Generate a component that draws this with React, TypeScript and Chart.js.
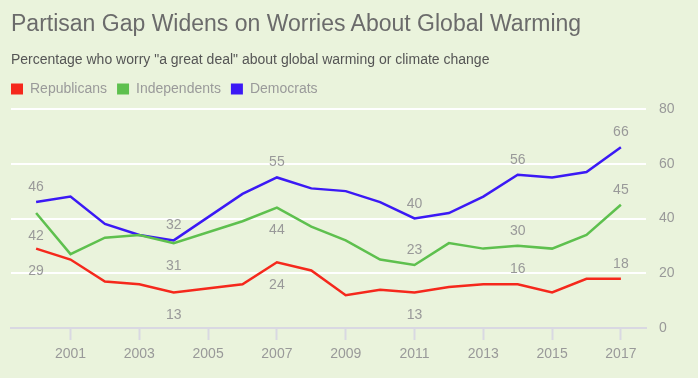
import React, { useEffect, useRef } from "react";
import { Chart, registerables } from "chart.js";

Chart.register(...registerables);

const FONT = "'Liberation Sans', Arial, sans-serif";

const titleText = "Partisan Gap Widens on Worries About Global Warming";
const subtitleText = 'Percentage who worry "a great deal" about global warming or climate change';

const years = [2000, 2001, 2002, 2003, 2004, 2006, 2007, 2008, 2009, 2010, 2011, 2012, 2013, 2014, 2015, 2016, 2017];
const republicans = [29, 25, 17, 16, 13, 16, 24, 21, 12, 14, 13, 15, 16, 16, 13, 18, 18];
const independents = [42, 27, 33, 34, 31, 39, 44, 37, 32, 25, 23, 31, 29, 30, 29, 34, 45];
const democrats = [46, 48, 38, 34, 32, 49, 55, 51, 50, 46, 40, 42, 48, 56, 55, 57, 66];

const seriesNames = ["Republicans", "Independents", "Democrats"];
const seriesColors = ["#f5281c", "#5ec04e", "#3b19f5"];

const xTickYears = [2001, 2003, 2005, 2007, 2009, 2011, 2013, 2015, 2017];
const yTickValues = [0, 20, 40, 60, 80];

const labeledYears = [2000, 2004, 2007, 2011, 2014, 2017];
const repLabelSide = ["below", "below", "below", "below", "above", "above"];
const indLabelSide = ["below", "below", "below", "above", "above", "above"];
const demLabelSide = ["above", "above", "above", "above", "above", "above"];

const BG = "#eaf3dc";

const valueLabelPlugin = {
  id: "valueLabels",
  afterDatasetsDraw(chart: any) {
    const sides = [repLabelSide, indLabelSide, demLabelSide];
    const ctx = chart.ctx;
    ctx.save();
    ctx.font = `14px ${FONT}`;
    ctx.fillStyle = "#999999";
    ctx.textAlign = "center";
    ctx.textBaseline = "alphabetic";
    chart.data.datasets.forEach((ds: any, di: number) => {
      const meta = chart.getDatasetMeta(di);
      labeledYears.forEach((yr, li) => {
        const idx = years.indexOf(yr);
        const pt = meta.data[idx];
        if (!pt) return;
        const v = ds.data[idx].y;
        const y = sides[di][li] === "above" ? pt.y - 11 : pt.y + 26.5;
        ctx.fillText(String(v), pt.x, y);
      });
    });
    ctx.restore();
  },
};

export default function App() {
  const canvasRef = useRef<HTMLCanvasElement | null>(null);

  useEffect(() => {
    document.body.style.margin = "0";
    document.body.style.background = BG;
    const canvas = canvasRef.current;
    if (!canvas) return;
    const seriesValues = [republicans, independents, democrats];
    const chart = new Chart(canvas, {
      type: "line",
      data: {
        datasets: seriesValues.map((vals, i) => ({
          label: seriesNames[i],
          data: years.map((yr, j) => ({ x: yr, y: vals[j] })),
          borderColor: seriesColors[i],
          backgroundColor: seriesColors[i],
          borderWidth: 2.5,
          pointRadius: 0,
          pointHoverRadius: 0,
          tension: 0,
          fill: false,
          xAxisID: "x",
          yAxisID: "y",
        })),
      },
      options: {
        responsive: false,
        animation: false,
        devicePixelRatio: 1,
        layout: { padding: { top: 72, left: 1, right: 0, bottom: 0 } },
        plugins: {
          title: { display: false },
          tooltip: { enabled: false },
          legend: {
            display: true,
            position: "top",
            align: "start",
            labels: {
              boxWidth: 12,
              boxHeight: 11,
              padding: 10,
              color: "#9a9a9a",
              font: { family: FONT, size: 14 },
              generateLabels: (c: any) =>
                Chart.defaults.plugins.legend.labels
                  .generateLabels(c)
                  .map((l: any) => ({ ...l, lineWidth: 0, strokeStyle: l.fillStyle })),
            },
          },
        },
        scales: {
          x: {
            type: "linear",
            position: "bottom",
            min: 1999.27,
            max: 2017.73,
            afterBuildTicks: (s: any) => {
              s.ticks = xTickYears.map((v) => ({ value: v }));
            },
            afterFit: (s: any) => {
              s.height = 50;
            },
            grid: {
              drawOnChartArea: false,
              drawTicks: true,
              tickLength: 12,
              tickWidth: 2,
              tickColor: "#d9d8e2",
            },
            border: { display: true, color: "#d9d8e2", width: 2 },
            ticks: {
              padding: 6,
              color: "#999999",
              font: { family: FONT, size: 14 },
              maxRotation: 0,
              autoSkip: false,
              callback: (v: any) => String(v),
            },
          },
          xt: {
            type: "linear",
            position: "top",
            display: true,
            ticks: { display: false },
            grid: { display: false, drawTicks: false },
            border: { display: false },
            afterFit: (s: any) => {
              s.height = 3;
            },
          },
          yl: {
            type: "linear",
            position: "left",
            display: true,
            ticks: { display: false },
            grid: { display: false, drawTicks: false },
            border: { display: false },
            afterFit: (s: any) => {
              s.width = 10;
            },
          },
          y: {
            type: "linear",
            position: "right",
            min: 0,
            max: 80,
            afterBuildTicks: (s: any) => {
              s.ticks = yTickValues.map((v) => ({ value: v }));
            },
            afterFit: (s: any) => {
              s.width = 52;
            },
            grid: { color: "#ffffff", lineWidth: 2, drawTicks: false },
            border: { display: false },
            ticks: {
              padding: 13,
              color: "#999999",
              font: { family: FONT, size: 14 },
            },
          },
        },
      } as any,
      plugins: [valueLabelPlugin],
    });
    return () => chart.destroy();
  }, []);

  return (
    <div style={{ position: "relative", width: 698, height: 378, background: BG, overflow: "hidden" }}>
      <canvas ref={canvasRef} width={698} height={378} style={{ position: "absolute", left: 0, top: 0 }} />
      <div
        style={{
          position: "absolute",
          left: 11,
          top: 12,
          font: `23px ${FONT}`,
          lineHeight: "23px",
          color: "#6b6b6b",
          whiteSpace: "nowrap",
        }}
      >
        {titleText}
      </div>
      <div
        style={{
          position: "absolute",
          left: 11,
          top: 51.5,
          font: `14px ${FONT}`,
          lineHeight: "14px",
          color: "#555555",
          whiteSpace: "nowrap",
        }}
      >
        {subtitleText}
      </div>
    </div>
  );
}
